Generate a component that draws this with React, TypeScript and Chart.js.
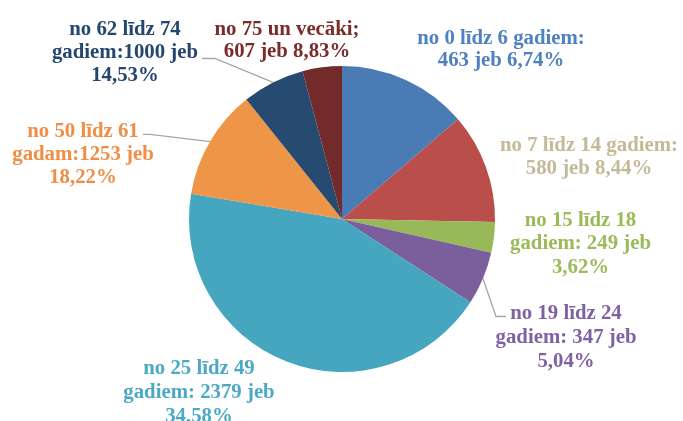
import React, { useEffect, useRef } from "react";
import { Chart, registerables } from "chart.js";

Chart.register(...registerables);

// Categories (age groups)
const categories = [
  "no 0 līdz 6 gadiem",
  "no 7 līdz 14 gadiem",
  "no 15 līdz 18 gadiem",
  "no 19 līdz 24 gadiem",
  "no 25 līdz 49 gadiem",
  "no 50 līdz 61 gadam",
  "no 62 līdz 74 gadiem",
  "no 75 un vecāki",
];
// Counts and percentages as printed in the labels
const counts = [463, 580, 249, 347, 2379, 1253, 1000, 607];
const percents = ["6,74%", "8,44%", "3,62%", "5,04%", "34,58%", "18,22%", "14,53%", "8,83%"];
// Slice shares as drawn in the picture (percent of the circle)
const sliceShares = [13.7, 11.6, 3.25, 5.6, 43.5, 11.6, 6.6, 4.15];
// Label text lines
const labelLines = [
  ["no 0 līdz 6 gadiem:", "463 jeb 6,74%"],
  ["no 7 līdz 14 gadiem:", "580 jeb 8,44%"],
  ["no 15 līdz 18", "gadiem: 249 jeb", "3,62%"],
  ["no 19 līdz 24", "gadiem: 347 jeb", "5,04%"],
  ["no 25 līdz 49", "gadiem: 2379 jeb", "34,58%"],
  ["no 50 līdz 61", "gadam:1253 jeb", "18,22%"],
  ["no 62 līdz 74", "gadiem:1000 jeb", "14,53%"],
  ["no 75 un vecāki;", "607 jeb 8,83%"],
];

const sliceColors = ["#4A7BB4", "#BA4E4A", "#98B85A", "#7B5F9C", "#46A5BF", "#EE9548", "#264A70", "#722B2A"];
const textColors = ["#4F81C0", "#C4BA98", "#9BBB59", "#7F62A2", "#4BA9C4", "#F08E45", "#25476F", "#7A2B2A"];

// layout: center x, first baseline y, line spacing
const labelPos = [
  [501, 43.5, 22.7],
  [589, 151, 22.7],
  [580.5, 226, 23.3],
  [566, 318.5, 24],
  [199, 374, 24],
  [83, 137, 23],
  [125, 35, 22.8],
  [287, 35, 22],
];
// leader elbows: [slice index, [elbow points from label side]]
const leaders: [number, number[][]][] = [
  [6, [[202, 58.5], [215, 58.5]]],
  [5, [[143, 134.3], [150, 134.3]]],
  [3, [[506, 316.5], [496, 316.5]]],
];

const labelPlugin = {
  id: "customLabels",
  afterDraw(chart: any) {
    const ctx = chart.ctx;
    const meta = chart.getDatasetMeta(0);
    ctx.save();
    // leaders
    ctx.strokeStyle = "#A6A6A6";
    ctx.lineWidth = 1.3;
    leaders.forEach(([idx, pts]) => {
      const arc = meta.data[idx];
      const mid = (arc.startAngle + arc.endAngle) / 2;
      const ex = arc.x + Math.cos(mid) * arc.outerRadius;
      const ey = arc.y + Math.sin(mid) * arc.outerRadius;
      ctx.beginPath();
      ctx.moveTo(pts[0][0], pts[0][1]);
      for (let i = 1; i < pts.length; i++) ctx.lineTo(pts[i][0], pts[i][1]);
      ctx.lineTo(ex, ey);
      ctx.stroke();
    });
    // labels
    ctx.font = 'bold 20px "Liberation Serif", "Times New Roman", serif';
    ctx.textAlign = "center";
    ctx.textBaseline = "alphabetic";
    const sx = 1.04;
    labelLines.forEach((lines, i) => {
      const [cx, by, lh] = labelPos[i];
      ctx.fillStyle = textColors[i];
      lines.forEach((ln, j) => {
        ctx.save();
        ctx.translate(cx, by + j * lh);
        ctx.scale(sx, 1);
        ctx.fillText(ln, 0, 0);
        ctx.restore();
      });
    });
    ctx.restore();
  },
};

export default function App() {
  const ref = useRef<HTMLCanvasElement>(null);
  useEffect(() => {
    if (!ref.current) return;
    const chart = new Chart(ref.current, {
      type: "pie",
      data: {
        labels: categories,
        datasets: [
          {
            data: sliceShares,
            backgroundColor: sliceColors,
            borderWidth: 0,
          },
        ],
      },
      options: {
        responsive: false,
        animation: false,
        layout: { padding: { left: 101, right: 100, top: 66, bottom: 49 } },
        plugins: {
          legend: { display: false },
          tooltip: { enabled: false },
        },
      },
      plugins: [labelPlugin],
    });
    return () => chart.destroy();
  }, []);
  return (
    <div style={{ position: "absolute", left: 0, top: 0, width: 683, height: 421, background: "#fff" }}>
      <canvas ref={ref} width={683} height={421} style={{ display: "block" }} />
    </div>
  );
}
